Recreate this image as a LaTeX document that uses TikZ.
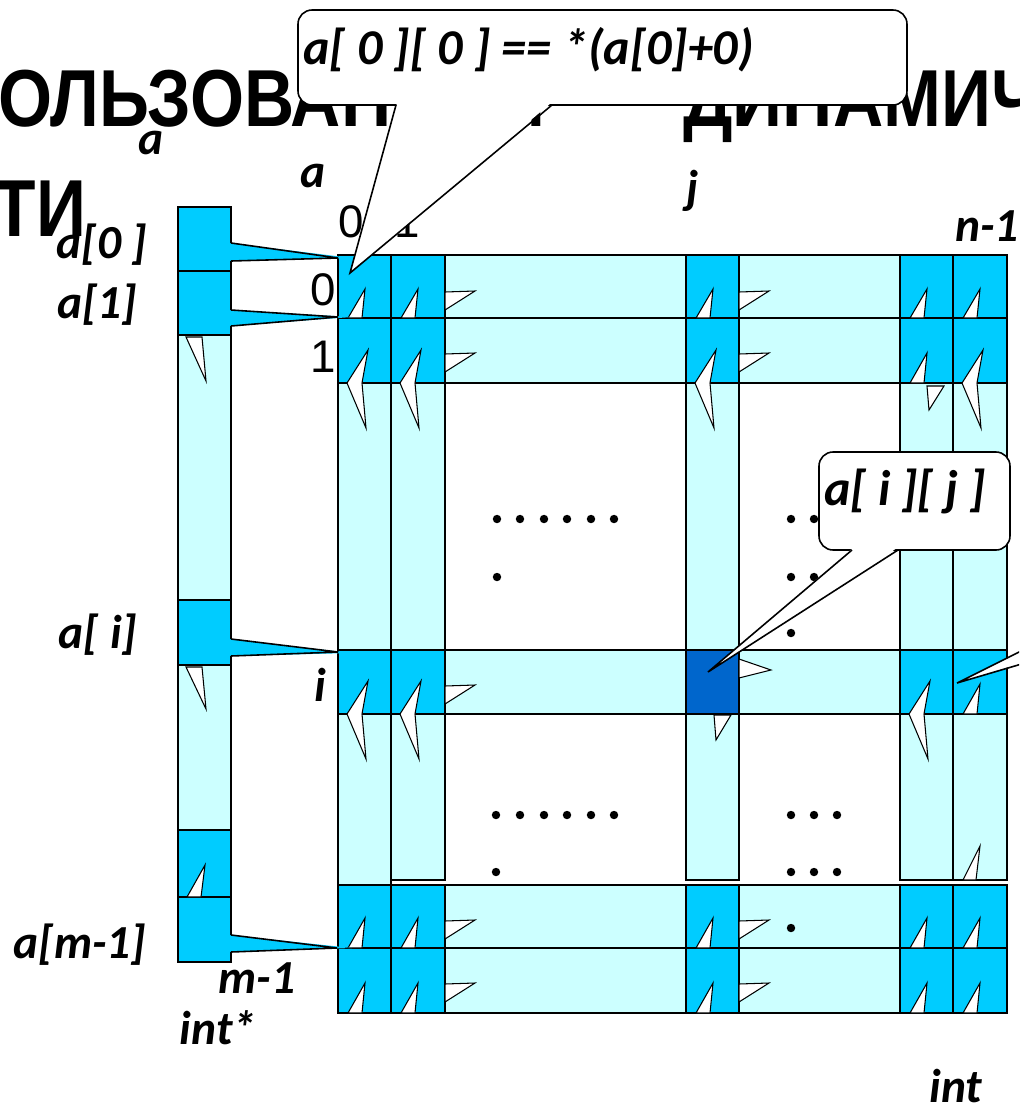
\documentclass[tikz,border=0pt]{standalone}
\usepackage{fontspec}
\setmainfont{Carlito}
\newfontfamily\arialfont{Liberation Sans}
\usetikzlibrary{fit}
\definecolor{cellcyan}{HTML}{00CCFF}
\definecolor{bandcyan}{HTML}{CCFFFF}
\definecolor{markblue}{HTML}{0066CC}

\begin{document}
\begin{tikzpicture}[
  x=0.02cm, y=-0.02cm,
  every node/.style={inner sep=0pt, outer sep=0pt},
  band/.style={draw, fill=bandcyan, line width=0.9pt},
  cellbox/.style={draw, fill=cellcyan, line width=0.9pt},
  spike/.style={draw, fill=white, line width=0.6pt},
  tail/.style={fill=cellcyan},
  lbl/.style={font=\fontsize{27}{31}\selectfont\bfseries\itshape},
  num/.style={font=\arialfont\fontsize{26}{29}\selectfont},
  titletxt/.style={font=\arialfont\bfseries\fontsize{46}{50}\selectfont},
  callout/.style={draw, fill=white, rounded corners=8pt, line width=0.9pt}
]
\path[use as bounding box] (0,0) rectangle (1019,1110);
\clip (0,0) rectangle (1019,1110);

% title behind everything
\node[titletxt, anchor=base west] (title1) at (-2,126) {\scalebox{0.86}[1]{ОЛЬЗОВАНИЕМ}};
\node[titletxt, anchor=base east] (title1b) at (1040,126) {\scalebox{0.86}[1]{ДИНАМИЧ}};
\node[titletxt, anchor=base east] (title2) at (86,236) {\scalebox{0.86}[1]{ТИ}};

% pointer column
\node[band, fit={(178,335) (231,600)}] (pgap1) {};
\node[band, fit={(178,665) (231,830)}] (pgap2) {};
\node[cellbox, fit={(178,207) (231,271)}] (pa0) {};
\node[cellbox, fit={(178,271) (231,335)}] (pa1) {};
\node[cellbox, fit={(178,600) (231,665)}] (pai) {};
\node[cellbox, fit={(178,830) (231,897)}] (pam2) {};
\node[cellbox, fit={(178,897) (231,962)}] (pam1) {};

% columns between the rows
\node[band, fit={(338,383) (391,650)}] (v0a) {};
\node[band, fit={(391,383) (445,650)}] (v1a) {};
\node[band, fit={(686,383) (739,650)}] (vja) {};
\node[band, fit={(900,383) (953,650)}] (vn2a) {};
\node[band, fit={(953,383) (1007,650)}] (vn1a) {};
\node[band, fit={(338,714) (391,885)}] (v0b) {};
\node[band, fit={(391,714) (445,880)}] (v1b) {};
\node[band, fit={(686,714) (739,880)}] (vjb) {};
\node[band, fit={(900,714) (953,880)}] (vn2b) {};
\node[band, fit={(953,714) (1007,880)}] (vn1b) {};

% rows
\node[band, fit={(338,255) (1007,318)}] (row0) {};
\node[band, fit={(338,318) (1007,383)}] (row1) {};
\node[band, fit={(338,650) (1007,714)}] (rowi) {};
\node[band, fit={(338,885) (1007,948)}] (rowm2) {};
\node[band, fit={(338,948) (1007,1013)}] (rowm1) {};

% cells
\node[cellbox, fit={(338,255) (391,318)}] (c00) {};
\node[cellbox, fit={(391,255) (445,318)}] (c01) {};
\node[cellbox, fit={(686,255) (739,318)}] (c0j) {};
\node[cellbox, fit={(900,255) (953,318)}] (c0n2) {};
\node[cellbox, fit={(953,255) (1007,318)}] (c0n1) {};
\node[cellbox, fit={(338,318) (391,383)}] (c10) {};
\node[cellbox, fit={(391,318) (445,383)}] (c11) {};
\node[cellbox, fit={(686,318) (739,383)}] (c1j) {};
\node[cellbox, fit={(900,318) (953,383)}] (c1n2) {};
\node[cellbox, fit={(953,318) (1007,383)}] (c1n1) {};
\node[cellbox, fit={(338,650) (391,714)}] (ci0) {};
\node[cellbox, fit={(391,650) (445,714)}] (ci1) {};
\node[cellbox, fill=markblue, fit={(686,650) (739,714)}] (cij) {};
\node[cellbox, fit={(900,650) (953,714)}] (cin2) {};
\node[cellbox, fit={(953,650) (1007,714)}] (cin1) {};
\node[cellbox, fit={(338,885) (391,948)}] (cm20) {};
\node[cellbox, fit={(391,885) (445,948)}] (cm21) {};
\node[cellbox, fit={(686,885) (739,948)}] (cm2j) {};
\node[cellbox, fit={(900,885) (953,948)}] (cm2n2) {};
\node[cellbox, fit={(953,885) (1007,948)}] (cm2n1) {};
\node[cellbox, fit={(338,948) (391,1013)}] (cm10) {};
\node[cellbox, fit={(391,948) (445,1013)}] (cm11) {};
\node[cellbox, fit={(686,948) (739,1013)}] (cm1j) {};
\node[cellbox, fit={(900,948) (953,1013)}] (cm1n2) {};
\node[cellbox, fit={(953,948) (1007,1013)}] (cm1n1) {};

% leftover spikes
\draw[spike] (348,318) -- (365,289) -- (362,318) -- cycle;
\draw[spike] (401,318) -- (418,289) -- (415,318) -- cycle;
\draw[spike] (696,318) -- (713,289) -- (710,318) -- cycle;
\draw[spike] (910,318) -- (927,289) -- (924,318) -- cycle;
\draw[spike] (963,318) -- (980,289) -- (977,318) -- cycle;
\draw[spike] (368,350) -- (347,383) -- (366,428) -- (362,383) -- cycle;
\draw[spike] (421,350) -- (400,383) -- (419,428) -- (415,383) -- cycle;
\draw[spike] (716,350) -- (695,383) -- (714,428) -- (710,383) -- cycle;
\draw[spike] (983,350) -- (962,383) -- (981,428) -- (977,383) -- cycle;
\draw[spike] (910,383) -- (927,353) -- (924,383) -- cycle;
\draw[spike] (927,386) -- (929,410) -- (944,386) -- cycle;
\draw[spike] (368,681) -- (347,714) -- (366,759) -- (362,714) -- cycle;
\draw[spike] (421,681) -- (400,714) -- (419,759) -- (415,714) -- cycle;
\draw[spike] (930,681) -- (909,714) -- (928,759) -- (924,714) -- cycle;
\draw[spike] (963,714) -- (980,684) -- (977,714) -- cycle;
\draw[spike] (714,715) -- (716,740) -- (731,715) -- cycle;
\draw[spike] (963,880) -- (980,846) -- (976,880) -- cycle;
\draw[spike] (348,948) -- (365,918) -- (362,948) -- cycle;
\draw[spike] (401,948) -- (418,918) -- (415,948) -- cycle;
\draw[spike] (696,948) -- (713,918) -- (710,948) -- cycle;
\draw[spike] (910,948) -- (927,918) -- (924,948) -- cycle;
\draw[spike] (963,948) -- (980,918) -- (977,948) -- cycle;
\draw[spike] (348,1013) -- (365,983) -- (362,1013) -- cycle;
\draw[spike] (401,1013) -- (418,983) -- (415,1013) -- cycle;
\draw[spike] (696,1013) -- (713,983) -- (710,1013) -- cycle;
\draw[spike] (910,1013) -- (927,983) -- (924,1013) -- cycle;
\draw[spike] (963,1013) -- (980,983) -- (977,1013) -- cycle;
\draw[spike] (445,292) -- (475,291) -- (445,310) -- cycle;
\draw[spike] (445,354) -- (475,353) -- (445,372) -- cycle;
\draw[spike] (445,686) -- (475,685) -- (445,704) -- cycle;
\draw[spike] (445,921) -- (475,920) -- (445,939) -- cycle;
\draw[spike] (445,984) -- (475,983) -- (445,1002) -- cycle;
\draw[spike] (739,292) -- (769,291) -- (739,310) -- cycle;
\draw[spike] (739,354) -- (769,353) -- (739,372) -- cycle;
\draw[spike] (739,659) -- (771,670) -- (739,678) -- cycle;
\draw[spike] (739,921) -- (769,920) -- (739,939) -- cycle;
\draw[spike] (739,984) -- (769,983) -- (739,1002) -- cycle;
\draw[spike] (186,337) -- (206,381) -- (202,337) -- cycle;
\draw[spike] (186,667) -- (206,709) -- (202,667) -- cycle;
\draw[spike] (187,897) -- (205,865) -- (201,897) -- cycle;

% pointer tails
\fill[tail] (229,243) -- (352,258) -- (229,261) -- cycle;
\draw[line width=0.9pt] (231,243) -- (338,258) -- (231,261);
\fill[tail] (229,310) -- (352,317) -- (229,326) -- cycle;
\draw[line width=0.9pt] (231,310) -- (338,317) -- (231,326);
\fill[tail] (229,639) -- (352,653) -- (229,656) -- cycle;
\draw[line width=0.9pt] (231,639) -- (338,652) -- (231,656);
\fill[tail] (229,935) -- (352,948) -- (229,952) -- cycle;
\draw[line width=0.9pt] (231,935) -- (337,948) -- (231,952);

% dots
\fill (497,519) circle[radius=2.4pt] (520,519) circle[radius=2.4pt] (544,519) circle[radius=2.4pt]
      (567,519) circle[radius=2.4pt] (591,519) circle[radius=2.4pt] (614,519) circle[radius=2.4pt]
      (497,577) circle[radius=2.4pt];
\fill (791,519) circle[radius=2.4pt] (814,519) circle[radius=2.4pt] (837,519) circle[radius=2.4pt]
      (791,577) circle[radius=2.4pt] (814,577) circle[radius=2.4pt] (837,577) circle[radius=2.4pt]
      (791,633) circle[radius=2.4pt];
\fill (496,815) circle[radius=2.4pt] (520,815) circle[radius=2.4pt] (544,815) circle[radius=2.4pt]
      (567,815) circle[radius=2.4pt] (591,815) circle[radius=2.4pt] (614,815) circle[radius=2.4pt]
      (496,872) circle[radius=2.4pt];
\fill (791,815) circle[radius=2.4pt] (814,815) circle[radius=2.4pt] (837,815) circle[radius=2.4pt]
      (791,872) circle[radius=2.4pt] (814,872) circle[radius=2.4pt] (837,872) circle[radius=2.4pt]
      (791,928) circle[radius=2.4pt];

% labels
\node[lbl] (lba) at (151,143) {a};
\node[lbl] (lbb) at (313,176) {a};
\node[lbl] (lbj) at (693,191) {j};
\node[lbl] (lbn) at (987,226) {n-1};
\node[lbl] (lbp0) at (102,245) {a[0 ]};
\node[lbl] (lbp1) at (97,305) {a[1]};
\node[lbl] (lbpi) at (98,635) {a[ i]};
\node[lbl] (lbpm) at (80,945) {a[m-1]};
\node[lbl] (lbm) at (257,978) {m-1};
\node[lbl] (lbptr) at (218,1028) {int*};
\node[lbl] (lbint) at (956,1086) {int};
\node[lbl] (lbi) at (320,685) {i};
\node[num] (col0) at (351,222) {0};
\node[num] (col1) at (407,222) {1};
\node[num] (row0n) at (323,290) {0};
\node[num] (row1n) at (323,357) {1};

% callouts
\node[callout, fit={(298,10) (907,105)}] (note0) {};
\fill[white] (397,103) -- (350,273) -- (551,103) -- cycle;
\draw[line width=0.9pt] (396,105) -- (350,273) -- (552,105);
\node[lbl, font=\fontsize{28.5}{32}\selectfont\bfseries\itshape, anchor=west] (note0txt) at (303,50) {a[ 0 ][ 0 ] == *(a[0]+0)};

\node[callout, fit={(819,452) (1010,550)}] (note1) {};
\fill[white] (853,548) -- (708,672) -- (897,548) -- cycle;
\draw[line width=0.9pt] (852,550) -- (708,672) -- (898,550);
\node[lbl, font=\fontsize{28.5}{32}\selectfont\bfseries\itshape, anchor=west] (note1txt) at (824,491) {a[ i ][ j ]};

\fill[white] (1025,650) -- (957,683) -- (1025,662) -- cycle;
\draw[line width=0.9pt] (1025,649) -- (957,683) -- (1025,663);
\end{tikzpicture}
\end{document}
